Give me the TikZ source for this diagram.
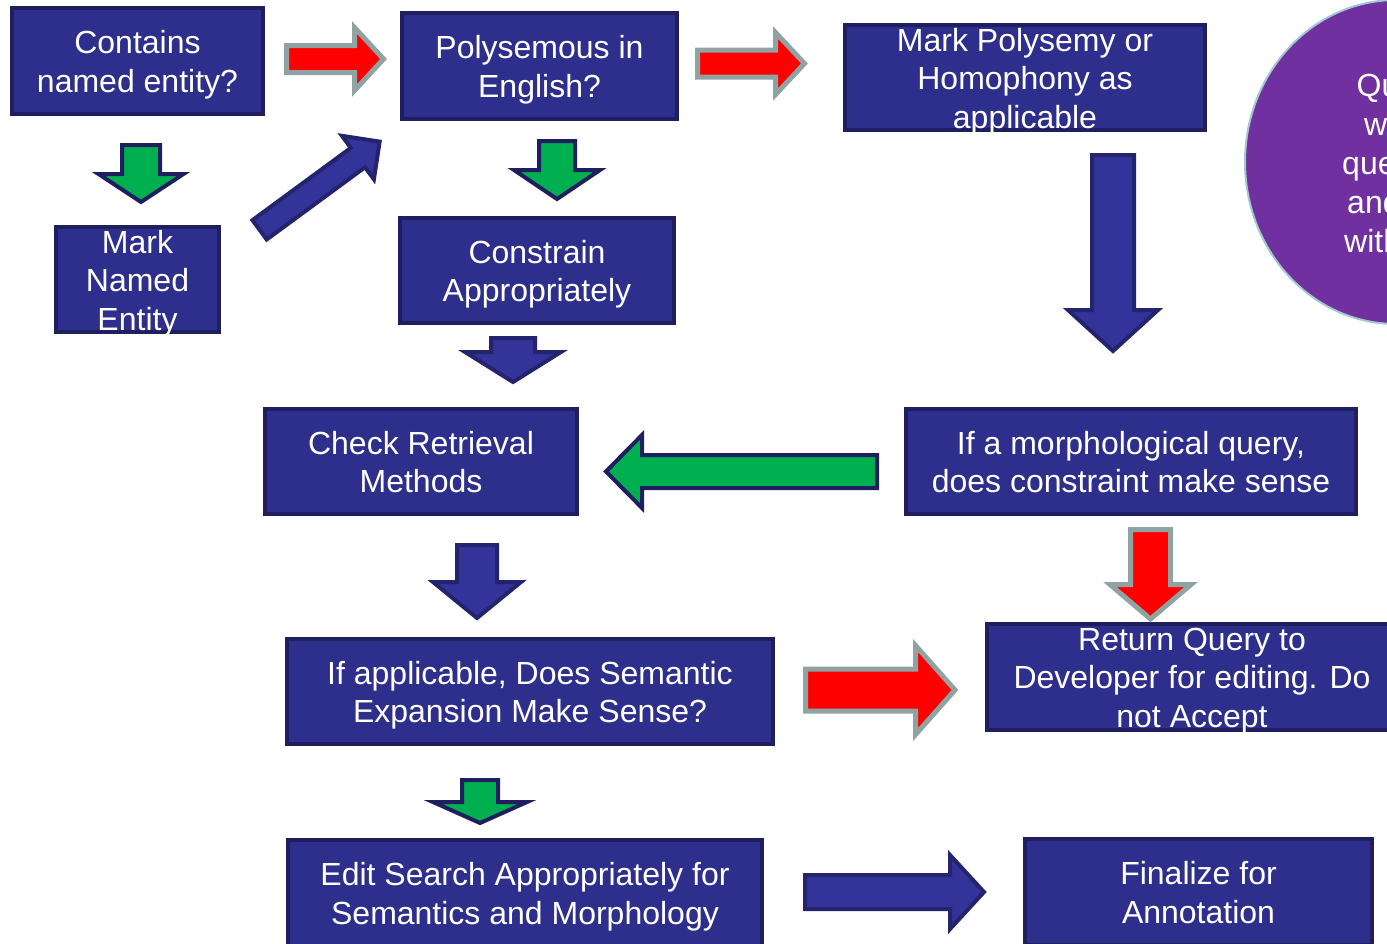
\documentclass[tikz,border=0pt]{standalone}
\usepackage{fontspec}
\setmainfont{Liberation Sans}
\definecolor{boxfill}{RGB}{46,47,140}
\definecolor{boxline}{RGB}{31,31,96}
\definecolor{arrblue}{RGB}{51,51,153}
\definecolor{arrblueline}{RGB}{36,36,110}
\definecolor{arrgreen}{RGB}{0,176,80}
\definecolor{arrred}{RGB}{255,0,0}
\definecolor{arrgrey}{RGB}{143,163,163}
\definecolor{ovalfill}{RGB}{112,48,160}
\definecolor{ovalline}{RGB}{160,200,205}
% invisible strut that evens out the height of each text block
\newcommand{\lblstrut}{\rule[-7.75pt]{0pt}{38.5pt}}
% block arrow: style, tail point, angle, length, shaft half width, head half width, head length
\newcommand{\blockarrow}[7]{%
  \begin{scope}[shift={#2},rotate=#3]
    \draw[#1] (0,-#5) -- ({#4-#7},-#5) -- ({#4-#7},-#6) -- (#4,0)
      -- ({#4-#7},#6) -- ({#4-#7},#5) -- (0,#5) -- cycle;
  \end{scope}}
\begin{document}
\begin{tikzpicture}[x=1pt,y=-1pt,
  box/.style={draw=boxline, fill=boxfill, line width=4pt, inner sep=0pt, rectangle},
  lbl/.style={text=white, align=center, inner sep=0pt, yshift=-4.5pt,
    font=\fontsize{32}{38.5}\selectfont,
    execute at begin node=\lblstrut, execute at end node=\lblstrut},
  ovaltext/.style={text=white, inner sep=0pt, anchor=base west,
    font=\fontsize{32}{38.5}\selectfont},
  bluearrow/.style={fill=arrblue, draw=arrblueline, line width=4pt},
  greenarrow/.style={fill=arrgreen, draw=boxline, line width=4pt},
  redarrow/.style={fill=arrred, draw=arrgrey, line width=5pt}]
\useasboundingbox (0,0) rectangle (1387,943);
\clip (0,0) rectangle (1387,943);

% process boxes
\node[box, minimum width=251pt, minimum height=106pt] (b1) at (137.5,61) {};
\node[box, minimum width=275pt, minimum height=106pt] (b2) at (539.5,66) {};
\node[box, minimum width=360pt, minimum height=105pt] (b3) at (1025,77.5) {};
\node[box, minimum width=163pt, minimum height=105pt] (b4) at (137.5,279.5) {};
\node[box, minimum width=274pt, minimum height=105pt] (b5) at (537,270.5) {};
\node[box, minimum width=312pt, minimum height=105pt] (b6) at (421,461.5) {};
\node[box, minimum width=450pt, minimum height=105pt] (b7) at (1131,461.5) {};
\node[box, minimum width=486pt, minimum height=105pt] (b8) at (530,691.5) {};
\node[box, minimum width=410pt, minimum height=106pt] (b9) at (1192,677) {};
\node[box, minimum width=474pt, minimum height=106pt] (b10) at (525,893) {};
\node[box, minimum width=347pt, minimum height=106pt] (b11) at (1198.5,892) {};

% box texts
\node[lbl] (t1) at (b1) {Contains\\named entity?};
\node[lbl] (t2) at (b2) {Polysemous in\\English?};
\node[lbl] (t3) at (b3) {Mark Polysemy or\\Homophony as\\applicable};
\node[lbl] (t4) at (b4) {Mark\\Named\\Entity};
\node[lbl] (t5) at (b5) {Constrain\\Appropriately};
\node[lbl] (t6) at (b6) {Check Retrieval\\Methods};
\node[lbl] (t7) at (b7) {If a morphological query,\\does constraint make sense};
\node[lbl] (t8) at (b8) {If applicable, Does Semantic\\Expansion Make Sense?};
\node[lbl] (t9) at (b9) {Return Query to\\Developer for editing. Do\\not Accept};
\node[lbl] (t10) at (b10) {Edit Search Appropriately for\\Semantics and Morphology};
\node[lbl] (t11) at (b11) {Finalize for\\Annotation};

% oval at the right edge
\draw[fill=ovalfill, draw=ovalline, line width=2pt] (1396,162) ellipse [x radius=151, y radius=162];
\node[ovaltext] (o1) at (1356.5,96) {Qu};
\node[ovaltext] (o2) at (1364,135) {w};
\node[ovaltext] (o3) at (1342,174) {que};
\node[ovaltext] (o4) at (1347,213) {and};
\node[ovaltext] (o5) at (1344,252) {with};

% block arrows
\blockarrow{redarrow}{(286.5,59)}{0}{97}{13.5}{31.5}{29}
\blockarrow{redarrow}{(697.5,63.5)}{0}{107}{13.5}{31}{29}
\blockarrow{greenarrow}{(141,145)}{-90}{57}{19}{42.5}{28}
\blockarrow{bluearrow}{(259.6,229.8)}{36.3}{149}{12}{27}{27}
\blockarrow{greenarrow}{(557,141)}{-90}{58}{18}{43}{29}
\blockarrow{bluearrow}{(513,338)}{-90}{44}{22}{48}{30}
\blockarrow{bluearrow}{(1113,155)}{-90}{196}{21}{45}{41}
\blockarrow{greenarrow}{(877,471.5)}{180}{271}{16.5}{36.5}{36}
\blockarrow{redarrow}{(1150.5,529.5)}{-90}{89.5}{20}{40.5}{34.5}
\blockarrow{bluearrow}{(477,545)}{-90}{73}{20}{44}{36}
\blockarrow{redarrow}{(805.5,690)}{0}{149.5}{21}{44.5}{39.5}
\blockarrow{greenarrow}{(480,780)}{-90}{43}{18}{47}{21}
\blockarrow{bluearrow}{(805,892)}{0}{179}{17}{37}{34}
\end{tikzpicture}
\end{document}
